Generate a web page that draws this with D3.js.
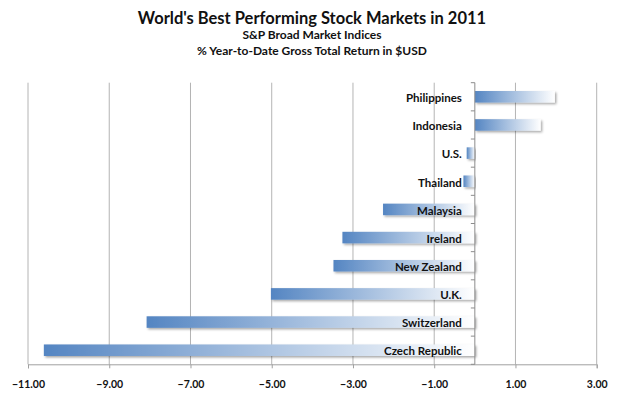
<!DOCTYPE html>
<html>
<head>
<meta charset="utf-8">
<script src="https://cdn.jsdelivr.net/npm/d3@7"></script>
<style>
    body { margin: 0; background: #fff; }
    svg text { font-family: Lato, "Open Sans", sans-serif; font-weight: bold; fill: #111; }
</style>
</head>
<body>
<svg id="chart" width="620" height="398"></svg>
<script>
// countries top to bottom, % YTD gross total return in $USD
const countries = ['Philippines', 'Indonesia', 'U.S.', 'Thailand', 'Malaysia', 'Ireland', 'New Zealand', 'U.K.', 'Switzerland', 'Czech Republic'];
const returns = [1.97, 1.62, -0.20, -0.28, -2.26, -3.26, -3.48, -5.02, -8.08, -10.61];
const xTicks = [-11, -9, -7, -5, -3, -1, 1, 3];

const titleLines = [
    'World\'s Best Performing Stock Markets in 2011',
    'S&P Broad Market Indices',
    '% Year-to-Date Gross Total Return in $USD'
];

const data = countries.map((c, i) => ({ country: c, value: returns[i] }));

const svg = d3.select('#chart');
const plotTop = 82.7, plotBottom = 364.3;

const x = d3.scaleLinear()
    .domain([-11, 3])
    .range([28, 596.7]);

const y = d3.scaleBand()
    .domain(countries)
    .range([plotTop, plotBottom])
    .paddingInner(0.59)
    .paddingOuter(0.295);

// gradient: dark blue on the left fading to white on the right
const defs = svg.append('defs');
const grad = defs.append('linearGradient')
    .attr('id', 'barGrad')
    .attr('x1', '0%').attr('x2', '100%')
    .attr('y1', '0%').attr('y2', '0%');
grad.append('stop').attr('offset', '0%').attr('stop-color', '#5485c2');
grad.append('stop').attr('offset', '100%').attr('stop-color', '#ffffff');

const shadow = defs.append('filter')
    .attr('id', 'shadow')
    .attr('x', '-5%').attr('y', '-40%')
    .attr('width', '115%').attr('height', '200%');
shadow.append('feDropShadow')
    .attr('dx', 1.5).attr('dy', 1.5)
    .attr('stdDeviation', 0.8)
    .attr('flood-color', '#000')
    .attr('flood-opacity', 0.35);

// titles
svg.selectAll('text.title')
    .data(titleLines)
    .enter()
    .append('text')
    .attr('class', 'title')
    .attr('x', 312)
    .attr('y', (d, i) => i === 0 ? 23.5 : 22 + i * 16.5)
    .attr('text-anchor', 'middle')
    .style('font-size', (d, i) => i === 0 ? '16.5px' : '12px')
    .text(d => d);

// vertical gridlines
svg.append('g')
    .selectAll('line')
    .data(xTicks)
    .enter()
    .append('line')
    .attr('x1', d => x(d)).attr('x2', d => x(d))
    .attr('y1', plotTop).attr('y2', plotBottom)
    .attr('stroke', '#b4b4b4')
    .attr('stroke-width', 1);

// bottom axis
const xAxis = svg.append('g')
    .attr('transform', `translate(0,${plotBottom})`)
    .call(d3.axisBottom(x)
        .tickValues(xTicks)
        .tickSize(4)
        .tickPadding(12)
        .tickFormat(d3.format('.2f')));
xAxis.select('.domain').attr('stroke', '#a0a0a0');
xAxis.selectAll('.tick line').attr('stroke', '#a0a0a0');
xAxis.selectAll('text')
    .style('font-size', '10.5px')
    .style('font-family', 'Lato, sans-serif')
    .style('font-weight', 'bold')
    .attr('fill', '#111');

// bars
svg.append('g')
    .selectAll('rect')
    .data(data)
    .enter()
    .append('rect')
    .attr('x', d => x(Math.min(0, d.value)))
    .attr('y', d => y(d.country))
    .attr('width', d => Math.abs(x(d.value) - x(0)))
    .attr('height', y.bandwidth())
    .attr('fill', 'url(#barGrad)')
    .attr('filter', 'url(#shadow)');

// zero axis with category ticks
svg.append('line')
    .attr('x1', x(0)).attr('x2', x(0))
    .attr('y1', plotTop).attr('y2', plotBottom)
    .attr('stroke', '#8c8c8c');

const half = y.step() * y.paddingInner() / 2;
const bounds = countries.map(c => y(c) - half).concat([plotBottom]);
svg.append('g')
    .selectAll('line')
    .data(bounds)
    .enter()
    .append('line')
    .attr('x1', x(0) - 4).attr('x2', x(0))
    .attr('y1', d => d).attr('y2', d => d)
    .attr('stroke', '#8c8c8c');

// category labels
svg.append('g')
    .selectAll('text')
    .data(data)
    .enter()
    .append('text')
    .attr('x', x(0) - 13)
    .attr('y', d => y(d.country) + y.bandwidth() - 0.5)
    .attr('text-anchor', 'end')
    .style('font-size', '11.5px')
    .text(d => d.country);
</script>
</body>
</html>
